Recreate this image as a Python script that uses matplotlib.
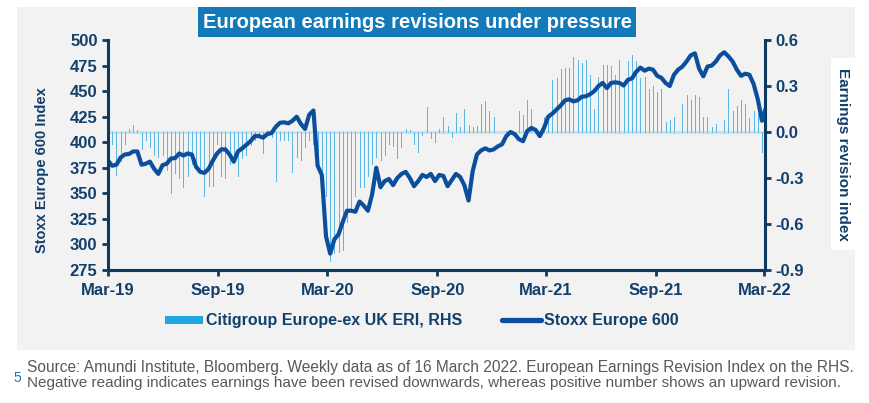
import pandas as pd
import matplotlib
matplotlib.use("Agg")
from matplotlib import pyplot as plt
from matplotlib.patches import Rectangle, Patch
from matplotlib.lines import Line2D
import matplotlib.dates as mdates

plt.rcParams['font.family'] = ['Liberation Sans', 'DejaVu Sans']

# weekly data, Fridays from 15 Mar 2019, last reading 16 Mar 2022
dates = list(pd.date_range('2019-03-15', periods=157, freq='7D')) + [pd.Timestamp('2022-03-16')]

stoxx = [382, 377, 378, 385, 388, 388.5, 391, 391, 378, 379,
         381, 374, 369, 377.5, 379, 384, 384.5, 389, 387, 389,
         388, 376, 371, 370, 374, 382, 389, 393, 393, 388,
         381, 391, 394, 397.5, 401, 406, 406, 404.5, 408, 409,
         415, 419, 419.5, 418.5, 421, 425, 418, 413, 427, 431,
         377, 368, 308, 291, 305, 310, 322, 333, 333, 332,
         342, 338, 333, 349, 375, 356, 362, 364, 358, 365,
         369, 371, 365, 357, 362, 368, 366, 369, 362, 368,
         367, 357, 363, 369, 366, 358, 343, 372, 388, 392,
         394, 392, 393, 396, 398, 406, 410, 408, 403, 401,
         411, 414, 412, 406, 414, 425, 428, 432, 436, 441,
         442, 440, 441, 444.5, 445, 447, 450, 455, 458, 453,
         458, 458.6, 458, 455.5, 461, 462.5, 469, 473, 470, 472,
         471, 465, 463, 458, 455, 466, 471, 474, 479, 485,
         487, 472, 464.5, 474, 475, 479, 485, 488, 484, 479,
         471, 465, 467, 466, 457, 442, 421, 431]

eri = [-0.06, -0.08, -0.28, -0.19, -0.08, 0.02, 0.045, 0.015, -0.11, -0.055,
       -0.10, -0.15, -0.16, -0.15, -0.25, -0.40, -0.27, -0.30, -0.36, -0.29,
       -0.21, -0.195, -0.25, -0.42, -0.35, -0.35, -0.08, -0.29, -0.30, -0.21,
       -0.17, -0.29, -0.17, -0.15, -0.087, -0.055, -0.03, -0.14, 0.015, -0.03,
       -0.32, -0.055, -0.05, -0.05, -0.26, -0.16, -0.18, -0.10, -0.055, -0.076,
       -0.15, -0.29, -0.42, -0.84, -0.79, -0.78, -0.77, -0.59, -0.51, -0.42,
       -0.36, -0.36, -0.29, -0.21, -0.16, -0.18, -0.15, -0.08, -0.09, -0.17,
       -0.10, 0.02, 0.015, -0.076, -0.13, -0.02, 0.16, -0.04, -0.065, 0.02,
       0.095, 0.04, -0.03, 0.125, 0.03, 0.15, 0.045, 0.03, 0.04, 0.18,
       0.20, 0.14, 0.095, 0.0, 0.0, 0.005, 0.01, 0.0, 0.135, 0.11,
       0.21, 0.15, 0.0, 0.0, 0.10, 0.08, 0.34, 0.35, 0.41, 0.42,
       0.42, 0.49, 0.47, 0.45, 0.47, 0.37, 0.15, 0.36, 0.44, 0.44,
       0.43, 0.37, 0.47, 0.32, 0.46, 0.50, 0.46, 0.35, 0.36, 0.28,
       0.30, 0.26, 0.28, 0.065, 0.08, 0.095, 0.0, 0.18, 0.24, 0.21,
       0.24, 0.23, 0.10, 0.095, 0.03, 0.055, 0.0, 0.08, 0.28, 0.14,
       0.17, 0.21, 0.18, 0.09, 0.14, 0.12, -0.13]

xticks = pd.date_range('2019-03-15', periods=7, freq=pd.DateOffset(months=6))
left_ticks = [275, 300, 325, 350, 375, 400, 425, 450, 475, 500]
right_ticks = [-0.9, -0.6, -0.3, 0.0, 0.3, 0.6]

navy = '#0d3a5e'
label_col = '#123f6b'
line_col = '#0b4f9c'
bar_col = '#5cb6e4'

fig = plt.figure(figsize=(8.69, 4.03), dpi=100)
fig.patches.append(Rectangle((0.0196, 0.1315), 0.9643, 0.8511, transform=fig.transFigure,
                             facecolor='#f2f2f2', edgecolor='none', zorder=-10))
fig.patches.append(Rectangle((0.2278, 0.9082), 0.504, 0.0744, transform=fig.transFigure,
                             facecolor='#1479b8', edgecolor='none', zorder=-5))
fig.patches.append(Rectangle((0.9563, 0.3797), 0.0288, 0.4764, transform=fig.transFigure,
                             facecolor='white', edgecolor='none', zorder=-5))

ax = fig.add_axes([0.1243, 0.330, 0.756, 0.5707])
ax2 = ax.twinx()
ax.set_zorder(ax2.get_zorder() + 1)
ax.patch.set_visible(False)
ax2.patch.set_visible(False)

# thin weekly bars on the right axis, crisp 1px
ax2.vlines(dates[:len(eri)], 0, eri, colors=bar_col, lw=0.55, antialiased=False, zorder=2)
ax2.axhline(0, color='#c3e2f4', lw=2, zorder=1)
ax2.set_ylim(-0.9, 0.6)
ax2.set_yticks(right_ticks)
ax2.set_yticklabels(['%.1f' % t for t in right_ticks])

ax.plot(dates, stoxx, color=line_col, lw=3.0, solid_joinstyle='round')
ax.set_ylim(275, 500)
ax.set_yticks(left_ticks)
ax.set_xlim(pd.Timestamp('2019-03-15'), pd.Timestamp('2022-03-16'))
ax.set_xticks(xticks)
ax.xaxis.set_major_formatter(mdates.DateFormatter('%b-%y'))

for a in (ax, ax2):
    for s in a.spines.values():
        s.set_color(navy)
        s.set_linewidth(2.2)
    a.spines['top'].set_visible(False)
    a.tick_params(colors=navy, length=4, width=2, labelsize=12, labelcolor=label_col)
    for t in a.get_xticklabels() + a.get_yticklabels():
        t.set_fontweight('bold')
ax.spines['right'].set_visible(False)
ax2.spines['left'].set_visible(False)
ax.tick_params(axis='x', pad=5)

fig.text(0.0483, 0.578, 'Stoxx Europe 600 Index', rotation=90, ha='center', va='center',
         fontsize=10.5, fontweight='bold', color=label_col)
fig.text(0.970, 0.6179, 'Earnings revision index', rotation=270, ha='center', va='center',
         fontsize=11, fontweight='bold', color=label_col)
fig.text(0.48, 0.9454, 'European earnings revisions under pressure', ha='center', va='center',
         fontsize=14.5, fontweight='bold', color='white')

handles = [Patch(facecolor='#1ea6e0', edgecolor='none'),
           Line2D([0], [0], color=line_col, lw=3.8, solid_capstyle='round')]
fig.legend(handles, ['Citigroup Europe-ex UK ERI, RHS', 'Stoxx Europe 600'],
           loc='center', bbox_to_anchor=(0.485, 0.2035), ncol=2, frameon=False,
           prop={'weight': 'bold', 'size': 11.5}, labelcolor=label_col,
           handlelength=2.4, handleheight=0.45, handletextpad=0.2, columnspacing=2.5)

fig.text(0.016, 0.062, '5', ha='left', va='center', fontsize=10, color='#1f6fb5')
fig.text(0.031, 0.0893, 'Source: Amundi Institute, Bloomberg. Weekly data as of 16 March 2022. '
         'European Earnings Revision Index on the RHS.', ha='left', va='center',
         fontsize=11.2, color='#595959')
fig.text(0.031, 0.0496, 'Negative reading indicates earnings have been revised downwards, '
         'whereas positive number shows an upward revision.', ha='left', va='center',
         fontsize=11, color='#595959')

fig.savefig('out.png', dpi=100)
